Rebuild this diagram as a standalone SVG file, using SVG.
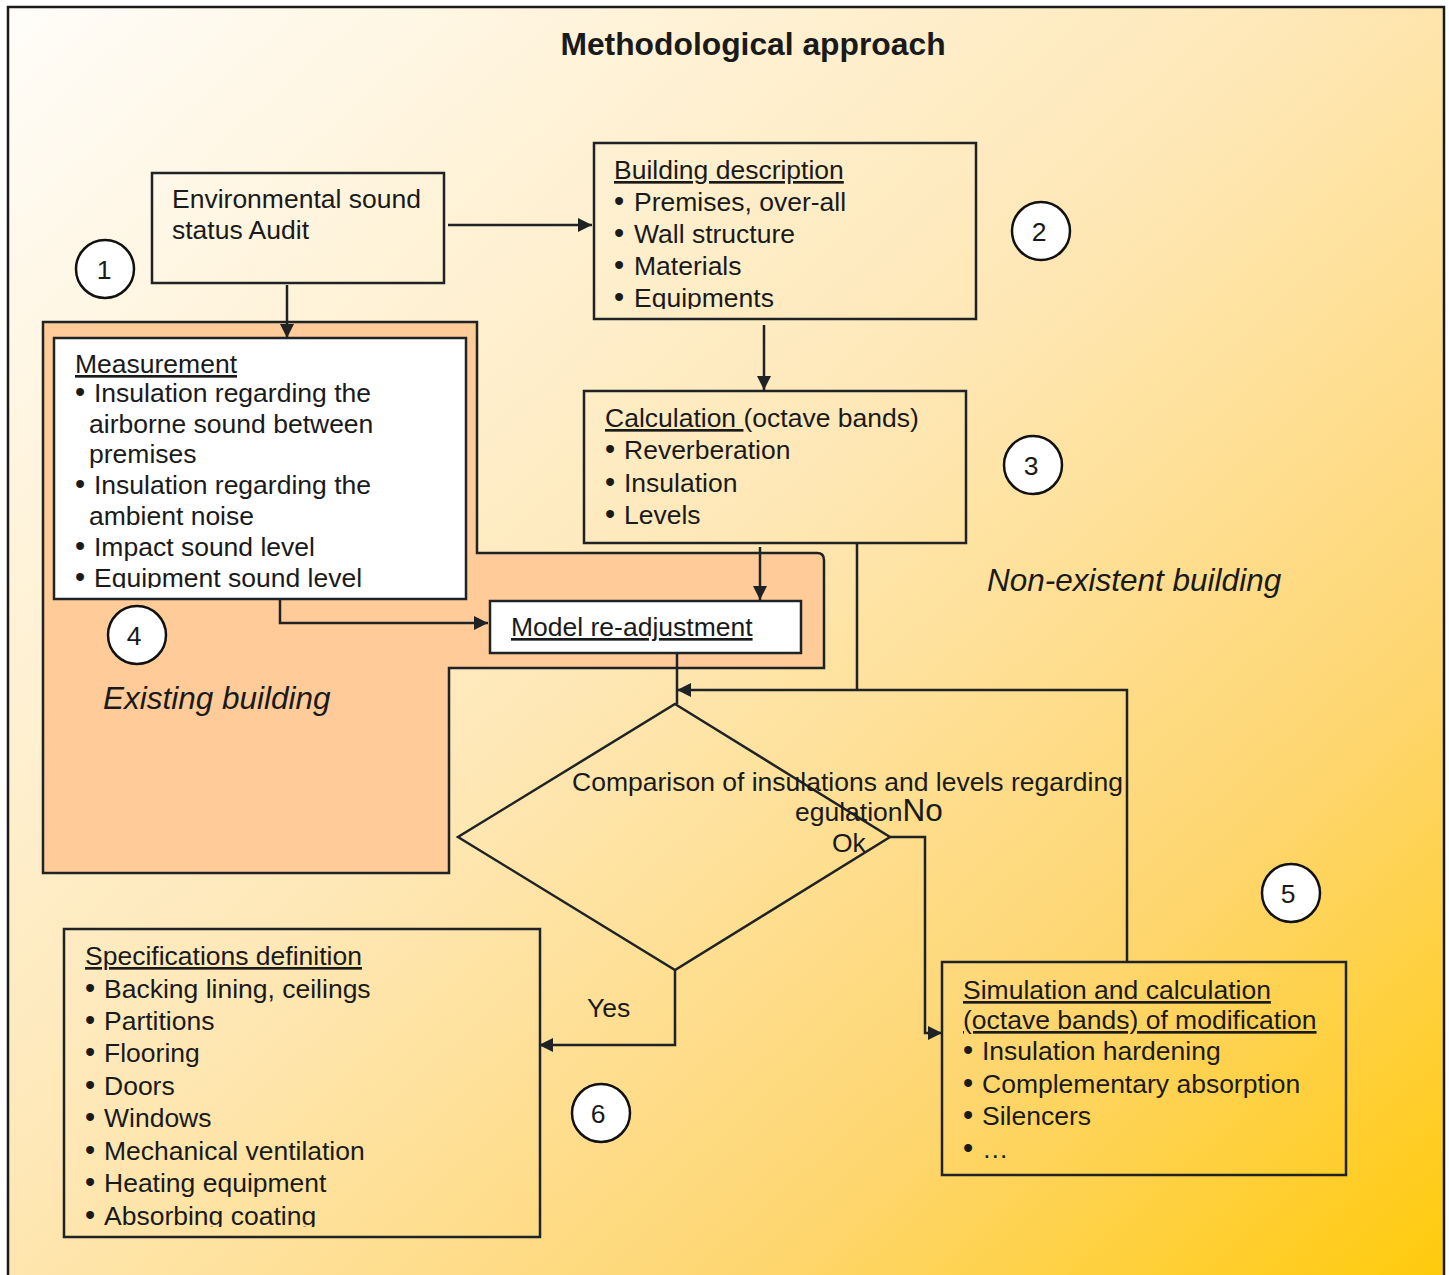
<svg xmlns="http://www.w3.org/2000/svg" width="1449" height="1275" viewBox="0 0 1449 1275">
<defs>
<linearGradient id="bg" x1="0" y1="0" x2="1" y2="1">
<stop offset="0" stop-color="#fffdf9"/>
<stop offset="0.45" stop-color="#fee8b8"/>
<stop offset="0.75" stop-color="#fed670"/>
<stop offset="1" stop-color="#ffca08"/>
</linearGradient>
<marker id="ah" viewBox="0 0 10 10" refX="10" refY="5" markerWidth="15" markerHeight="14" markerUnits="userSpaceOnUse" orient="auto">
<path d="M0,0 L10,5 L0,10 Z" fill="#1f2326"/>
</marker>
<clipPath id="cBuild"><rect x="594" y="143" width="382" height="166"/></clipPath>
<clipPath id="cMeas"><rect x="54" y="338" width="412" height="250"/></clipPath>
<clipPath id="cSpec"><rect x="64" y="929" width="476" height="298"/></clipPath>
</defs>
<style>
text{font-family:"Liberation Sans",Arial,sans-serif;font-size:26.5px;fill:#1a1a1a}
.box{fill:none;stroke:#1f2326;stroke-width:2.5}
.wbox{fill:#ffffff;stroke:#1f2326;stroke-width:2.5}
.circ{fill:#ffffff;stroke:#111;stroke-width:2.5}
.ln{fill:none;stroke:#1f2326;stroke-width:2.5}
.u{text-decoration:underline}
.it{font-style:italic;font-size:31.5px}
.num{text-anchor:middle}
.b{font-size:29px}
</style>
<rect x="8" y="7" width="1436" height="1290" fill="url(#bg)" stroke="#1a1a1a" stroke-width="2.5"/>
<text x="753" y="55" text-anchor="middle" style="font-weight:bold;font-size:31.8px">Methodological approach</text>

<g id="existing-area">
<path d="M43,322 H477 V553 H817 Q824,553 824,560 V668 H449 V873 H43 Z" fill="#ffcc99" stroke="#1f2326" stroke-width="2.5"/>
<text x="103" y="709" class="it">Existing building</text>
</g>
<g id="non-existent-label">
<text x="987" y="591" class="it">Non-existent building</text>
</g>

<g id="connectors">
<line x1="448" y1="225" x2="592" y2="225" class="ln" marker-end="url(#ah)"/>
<line x1="287" y1="285" x2="287" y2="338" class="ln" marker-end="url(#ah)"/>
<line x1="764" y1="325" x2="764" y2="390" class="ln" marker-end="url(#ah)"/>
<line x1="760" y1="547" x2="760" y2="600" class="ln" marker-end="url(#ah)"/>
<polyline points="280,600 280,623 488,623" class="ln" marker-end="url(#ah)"/>
<line x1="677" y1="653" x2="677" y2="704" class="ln"/>
<line x1="857" y1="543" x2="857" y2="690" class="ln"/>
<polyline points="1127,962 1127,690 677,690" class="ln" marker-end="url(#ah)"/>
<polyline points="890,837 925,837 925,1033 942,1033" class="ln" marker-end="url(#ah)"/>
<polyline points="675,970 675,1045 539,1045" class="ln" marker-end="url(#ah)"/>
</g>

<g id="audit">
<rect x="152" y="173" width="292" height="110" class="box"/>
<text x="172" y="208">Environmental sound</text>
<text x="172" y="239">status Audit</text>
</g>
<g id="c1"><circle cx="105" cy="269" r="29" class="circ"/><text x="104" y="279" class="num">1</text></g>

<g id="building">
<rect x="594" y="143" width="382" height="176" class="box"/>
<g clip-path="url(#cBuild)">
<text x="614" y="179" class="u">Building description</text>
<text x="614" y="211"><tspan class="b">•</tspan><tspan x="634">Premises, over-all</tspan></text>
<text x="614" y="243"><tspan class="b">•</tspan><tspan x="634">Wall structure</tspan></text>
<text x="614" y="275"><tspan class="b">•</tspan><tspan x="634">Materials</tspan></text>
<text x="614" y="307"><tspan class="b">•</tspan><tspan x="634">Equipments</tspan></text>
</g>
</g>
<g id="c2"><circle cx="1041" cy="231" r="29" class="circ"/><text x="1039" y="241" class="num">2</text></g>

<g id="calculation">
<rect x="584" y="391" width="382" height="152" class="box"/>
<text x="605" y="427"><tspan class="u">Calculation </tspan>(octave bands)</text>
<text x="605" y="459"><tspan class="b">•</tspan><tspan x="624">Reverberation</tspan></text>
<text x="605" y="492"><tspan class="b">•</tspan><tspan x="624">Insulation</tspan></text>
<text x="605" y="524"><tspan class="b">•</tspan><tspan x="624">Levels</tspan></text>
</g>
<g id="c3"><circle cx="1033" cy="465" r="29" class="circ"/><text x="1031" y="475" class="num">3</text></g>

<g id="measurement">
<rect x="54" y="338" width="412" height="261" class="wbox"/>
<g clip-path="url(#cMeas)">
<text x="75" y="373" class="u">Measurement</text>
<text x="75" y="402"><tspan class="b">•</tspan><tspan x="94">Insulation regarding the</tspan></text>
<text x="89" y="433">airborne sound between</text>
<text x="89" y="463">premises</text>
<text x="75" y="494"><tspan class="b">•</tspan><tspan x="94">Insulation regarding the</tspan></text>
<text x="89" y="525">ambient noise</text>
<text x="75" y="556"><tspan class="b">•</tspan><tspan x="94">Impact sound level</tspan></text>
<text x="75" y="587"><tspan class="b">•</tspan><tspan x="94">Equipment sound level</tspan></text>
</g>
</g>
<g id="c4"><circle cx="137" cy="635" r="29" class="circ"/><text x="134" y="645" class="num">4</text></g>

<g id="model">
<rect x="490" y="601" width="311" height="52" class="wbox"/>
<text x="511" y="636" class="u">Model re-adjustment</text>
</g>

<g id="decision">
<polygon points="675,704 890,837 675,970 458,837" fill="none" stroke="#1f2326" stroke-width="2.5"/>
<text x="572" y="791">Comparison of insulations and levels regarding</text>
<text x="795" y="821">egulation<tspan style="font-size:31.5px">No</tspan></text>
<text x="832" y="852">Ok</text>
<text x="587" y="1017">Yes</text>
</g>

<g id="simulation">
<rect x="942" y="962" width="404" height="213" class="box"/>
<text x="963" y="999" class="u">Simulation and calculation</text>
<text x="963" y="1029" class="u">(octave bands) of modification</text>
<text x="963" y="1060"><tspan class="b">•</tspan><tspan x="982">Insulation hardening</tspan></text>
<text x="963" y="1093"><tspan class="b">•</tspan><tspan x="982">Complementary absorption</tspan></text>
<text x="963" y="1125"><tspan class="b">•</tspan><tspan x="982">Silencers</tspan></text>
<text x="963" y="1158"><tspan class="b">•</tspan><tspan x="982">…</tspan></text>
</g>
<g id="c5"><circle cx="1291" cy="893" r="29" class="circ"/><text x="1288" y="903" class="num">5</text></g>

<g id="specifications">
<rect x="64" y="929" width="476" height="308" class="box"/>
<g clip-path="url(#cSpec)">
<text x="85" y="965" class="u">Specifications definition</text>
<text x="85" y="998"><tspan class="b">•</tspan><tspan x="104">Backing lining, ceilings</tspan></text>
<text x="85" y="1030"><tspan class="b">•</tspan><tspan x="104">Partitions</tspan></text>
<text x="85" y="1062"><tspan class="b">•</tspan><tspan x="104">Flooring</tspan></text>
<text x="85" y="1095"><tspan class="b">•</tspan><tspan x="104">Doors</tspan></text>
<text x="85" y="1127"><tspan class="b">•</tspan><tspan x="104">Windows</tspan></text>
<text x="85" y="1160"><tspan class="b">•</tspan><tspan x="104">Mechanical ventilation</tspan></text>
<text x="85" y="1192"><tspan class="b">•</tspan><tspan x="104">Heating equipment</tspan></text>
<text x="85" y="1225"><tspan class="b">•</tspan><tspan x="104">Absorbing coating</tspan></text>
</g>
</g>
<g id="c6"><circle cx="601" cy="1113" r="29" class="circ"/><text x="598" y="1123" class="num">6</text></g>
</svg>
